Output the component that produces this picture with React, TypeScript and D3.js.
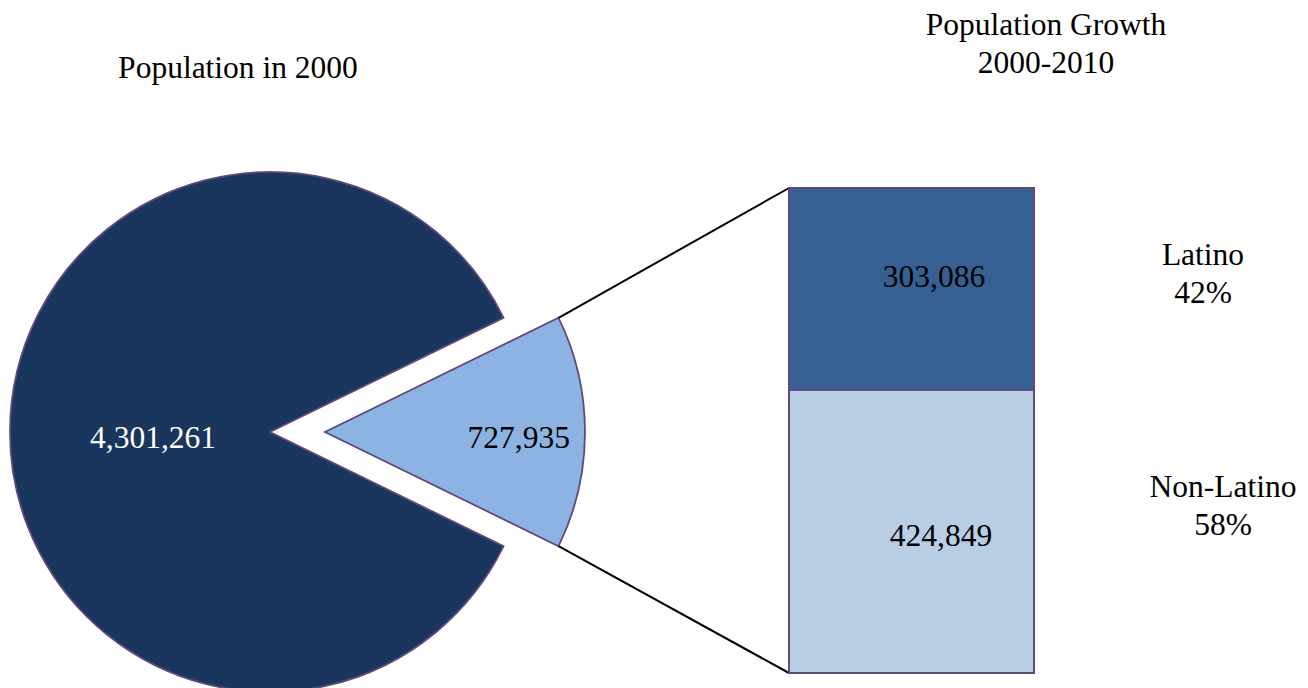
import { useEffect } from 'react';
import * as d3 from 'd3';

// pie: population in 2000 vs growth 2000-2010
const pieCategories = ['Population in 2000', 'Growth 2000-2010'];
const pieValues = [4301261, 727935];

// bar: breakdown of the growth
const barCategories = ['Latino', 'Non-Latino'];
const barValues = [303086, 424849];
const barPercents = ['42%', '58%'];

const W = 1308;
const H = 688;
const FONT = '"Liberation Serif", "Times New Roman", serif';
const FS = 31.5;

const pieColors = ['#1b365d', '#8db3e2'];
const barColors = ['#366092', '#b9cde5'];
const outline = '#5e4a7c';

export default function App() {
  useEffect(() => {
    document.body.style.margin = '0';
  }, []);

  const cx = 270;
  const cy = 432;
  const r = 260;
  const explode = 55;

  const total = d3.sum(pieValues);
  const theta = (2 * Math.PI * pieValues[1]) / total;
  const start = Math.PI / 2 + theta / 2;

  const pie = d3
    .pie<number>()
    .sort(null)
    .startAngle(start)
    .endAngle(start + 2 * Math.PI);
  const slices = pie(pieValues);

  const arc = d3.arc<d3.PieArcDatum<number>>().innerRadius(0).outerRadius(r);
  const labelRadius = [r * 0.45, r * 0.745];
  const fmt = d3.format(',');

  // exploded slice offset along its mid angle
  const offsets = slices.map((s, i) => {
    if (i === 0) return [0, 0];
    const mid = (s.startAngle + s.endAngle) / 2;
    return [Math.sin(mid) * explode, -Math.cos(mid) * explode];
  });

  // bar
  const barX = 789;
  const barW = 245;
  const barTop = 188;
  const barBottom = 673;
  const growth = d3.sum(barValues);
  const y = d3.scaleLinear().domain([0, growth]).range([barTop, barBottom]);
  const stacks = barValues.map((v, i) => {
    const y0 = d3.sum(barValues.slice(0, i));
    return { v, y0: y(y0), y1: y(y0 + v) };
  });

  // connector points: corners of the exploded slice
  const gs = slices[1];
  const [ox, oy] = offsets[1];
  const cornerTop: [number, number] = [
    cx + ox + Math.sin(gs.startAngle) * r,
    cy + oy - Math.cos(gs.startAngle) * r,
  ];
  const cornerBottom: [number, number] = [
    cx + ox + Math.sin(gs.endAngle) * r,
    cy + oy - Math.cos(gs.endAngle) * r,
  ];
  // startAngle is above the horizontal for the growth slice? pick by y
  const upper = cornerTop[1] < cornerBottom[1] ? cornerTop : cornerBottom;
  const lower = cornerTop[1] < cornerBottom[1] ? cornerBottom : cornerTop;

  const barLabelX = [934, 941];
  const barLabelDy = [-2, 15];
  const sideLabelX = [1203, 1223];
  const sideLabelY = [265, 497];

  return (
    <div style={{ position: 'absolute', left: 0, top: 0 }}>
      <svg width={W} height={H} style={{ display: 'block', background: '#fff' }} fontFamily={FONT}>
        {/* titles */}
        <text x={238} y={78} fontSize={FS} textAnchor="middle" fill="#000">
          Population in 2000
        </text>
        <text x={1046} y={35} fontSize={FS} textAnchor="middle" fill="#000">
          Population Growth
        </text>
        <text x={1046} y={73} fontSize={FS} textAnchor="middle" fill="#000">
          2000-2010
        </text>

        {/* pie */}
        {slices.map((s, i) => {
          const [dx, dy] = offsets[i];
          const la = d3
            .arc<d3.PieArcDatum<number>>()
            .innerRadius(labelRadius[i])
            .outerRadius(labelRadius[i]);
          const [lx, ly] = la.centroid(s);
          return (
            <g key={pieCategories[i]} transform={`translate(${cx + dx},${cy + dy})`}>
              <path d={arc(s) ?? ''} fill={pieColors[i]} stroke={outline} strokeWidth={1.8} />
              <text
                x={lx}
                y={ly + 16}
                fontSize={FS}
                textAnchor="middle"
                fill={i === 0 ? '#fff' : '#000'}
              >
                {fmt(s.data)}
              </text>
            </g>
          );
        })}

        {/* connector lines */}
        <line x1={upper[0]} y1={upper[1]} x2={barX} y2={barTop} stroke="#000" strokeWidth={2} />
        <line x1={lower[0]} y1={lower[1]} x2={barX} y2={barBottom} stroke="#000" strokeWidth={2} />

        {/* stacked bar */}
        {stacks.map((s, i) => (
          <g key={barCategories[i]}>
            <rect
              x={barX}
              y={s.y0}
              width={barW}
              height={s.y1 - s.y0}
              fill={barColors[i]}
              stroke={outline}
              strokeWidth={2}
            />
            <text
              x={barLabelX[i]}
              y={(s.y0 + s.y1) / 2 + barLabelDy[i]}
              fontSize={FS}
              textAnchor="middle"
              fill="#000"
            >
              {fmt(s.v)}
            </text>
            <text x={sideLabelX[i]} y={sideLabelY[i]} fontSize={FS} textAnchor="middle" fill="#000">
              {barCategories[i]}
            </text>
            <text x={sideLabelX[i]} y={sideLabelY[i] + 38} fontSize={FS} textAnchor="middle" fill="#000">
              {barPercents[i]}
            </text>
          </g>
        ))}
      </svg>
    </div>
  );
}
